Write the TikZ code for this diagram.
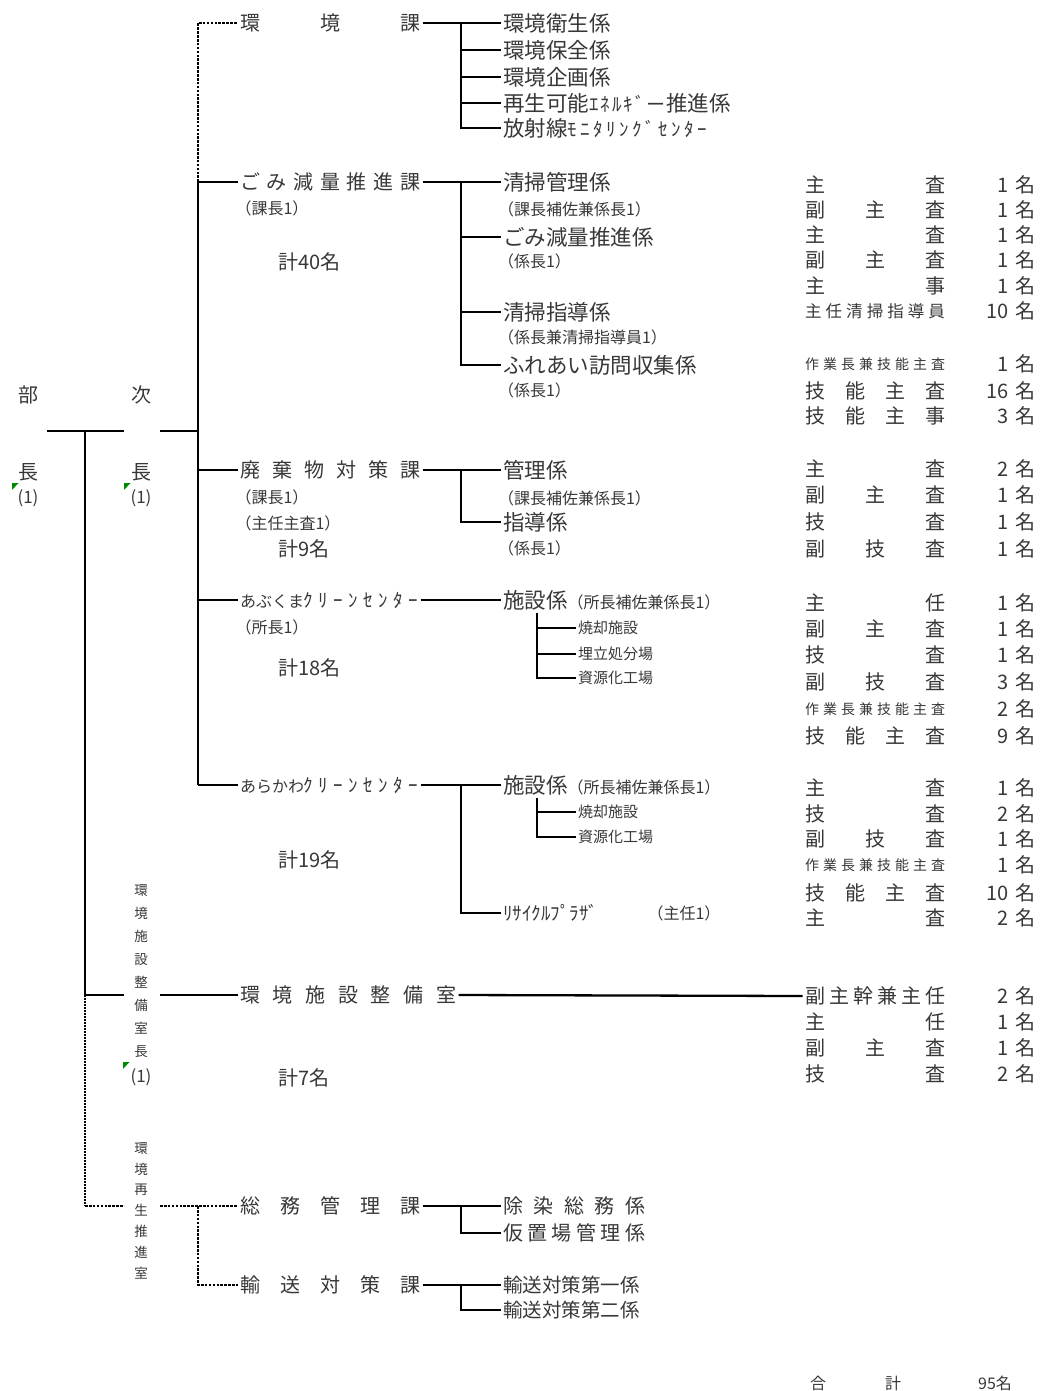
\documentclass[tikz,border=0pt]{standalone}
\usepackage{fontspec}
\setmainfont{Noto Sans CJK JP}
\newcommand\fsz[1]{\fontsize{#1}{#1}\selectfont}
\def\spreadA#1{\ifx#1\relax\else#1\expandafter\spreadB\fi}
\def\spreadB#1{\ifx#1\relax\else\hfill#1\expandafter\spreadB\fi}
\newcommand\sprd[2]{\makebox[#1][s]{\spreadA#2\relax}}
\newcommand\kana[2]{{\fsz{19}\sprd{#1}{#2}}}
\tikzset{
  txt/.style={inner sep=0pt, outer sep=2.5pt, anchor=west, text=black!78, font=\fsz{21.5}},
  ttl/.style={txt, font=\fsz{20}},
  sml/.style={txt, font=\fsz{16}},
  ctr/.style={inner sep=0pt, text=black!78, font=\fsz{20}},
  role/.style={txt, font=\fsz{20}},
  num/.style={inner sep=0pt, outer sep=2.5pt, anchor=east, text=black!78, font=\fsz{20}},
  mei/.style={txt, font=\fsz{20}},
  ln/.style={line width=2.3pt, black},
  dl/.style={line width=2.6pt, black, dash pattern=on 2.6pt off 1.3pt},
  tdl/.style={line width=1.4pt, black, dash pattern=on 1.8pt off 1.2pt},
  grn/.style={fill=green!55!black},
}
\newcommand\staffrow[5][20]{%
  \node[role,font=\fsz{#1}] (#2) at (802.5,#3) {\sprd{140pt}{#4}};
  \node[num] (#2n) at (1011.5,#3) {#5};
  \node[mei] (#2m) at (1012.5,#3) {名};
}
\begin{document}
\begin{tikzpicture}[x=1pt,y=-1pt]
\fill[white] (0,0) rectangle (1039,1391);
\useasboundingbox (0,0) rectangle (1039,1391);

% --- heads ---
\node[ctr] (bu1) at (28,395) {部};
\node[ctr] (bu2) at (28,472) {長};
\node[ctr,font=\fsz{17}] (bu3) at (28,498) {(1)};
\node[ctr] (ji1) at (141,395) {次};
\node[ctr] (ji2) at (141,472) {長};
\node[ctr,font=\fsz{17}] (ji3) at (141,498) {(1)};
\fill[grn] (12,483) -- (18.5,483) -- (12,490) -- cycle;
\fill[grn] (124,483) -- (130.5,483) -- (124,490) -- cycle;
\node[ctr,font={\fontsize{13.5}{23.1}\selectfont},align=center] (seicho) at (141,971) {環\\境\\施\\設\\整\\備\\室\\長};
\node[ctr,font=\fsz{17}] (seicho1) at (141,1077) {(1)};
\fill[grn] (123,1062) -- (129.5,1062) -- (123,1069) -- cycle;
\node[ctr,font={\fontsize{13.5}{20.8}\selectfont},align=center] (saisei) at (141,1210.5) {環\\境\\再\\生\\推\\進\\室};

% --- sections ---
\node[ttl] (kk) at (237.5,23) {\sprd{180pt}{環境課}};
\node[ttl] (gomi) at (237.5,182) {\sprd{180pt}{ごみ減量推進課}};
\node[ttl] (hai) at (237.5,470) {\sprd{180pt}{廃棄物対策課}};
\node[ttl] (abu) at (237.5,600) {{\fsz{16}\sprd{60pt}{あぶくま}}\hspace{3pt}\kana{115pt}{ｸﾘｰﾝｾﾝﾀｰ}};
\node[ttl] (ara) at (237.5,785) {{\fsz{16}\sprd{60pt}{あらかわ}}\hspace{3pt}\kana{115pt}{ｸﾘｰﾝｾﾝﾀｰ}};
\node[ttl] (sei) at (237.5,995) {\sprd{216pt}{環境施設整備室}};
\node[ttl] (somu) at (237.5,1206) {\sprd{180pt}{総務管理課}};
\node[ttl] (yuso) at (237.5,1285) {\sprd{180pt}{輸送対策課}};

% --- left sub texts ---
\node[sml] (gomi1) at (233,208) {（課長1）};
\node[ttl] (gomi2) at (275.5,262) {計40名};
\node[sml] (hai1) at (233,497) {（課長1）};
\node[sml] (hai2) at (233,523) {（主任主査1）};
\node[ttl] (hai3) at (275.5,549) {計9名};
\node[sml] (abu1) at (233,627) {（所長1）};
\node[ttl] (abu2) at (275.5,668) {計18名};
\node[ttl] (ara2) at (275.5,860) {計19名};
\node[ttl] (sei2) at (275.5,1078) {計7名};

% --- kakari ---
\node[txt] (k1) at (500.5,23) {環境衛生係};
\node[txt] (k2) at (500.5,50) {環境保全係};
\node[txt] (k3) at (500.5,77) {環境企画係};
\node[txt] (k4) at (500.5,103) {再生可能\kana{77pt}{ｴﾈﾙｷﾞー}推進係};
\node[txt] (k5) at (500.5,128) {放射線\kana{140pt}{ﾓﾆﾀﾘﾝｸﾞｾﾝﾀｰ}};

\node[txt] (g1) at (500.5,182) {清掃管理係};
\node[sml] (g1s) at (495.5,209) {（課長補佐兼係長1）};
\node[txt] (g2) at (500.5,237) {ごみ減量推進係};
\node[sml] (g2s) at (495.5,261) {（係長1）};
\node[txt] (g3) at (500.5,312) {清掃指導係};
\node[sml] (g3s) at (495.5,337) {（係長兼清掃指導員1）};
\node[txt] (g4) at (500.5,365) {ふれあい訪問収集係};
\node[sml] (g4s) at (495.5,390) {（係長1）};

\node[txt] (h1) at (500.5,470) {管理係};
\node[sml] (h1s) at (495.5,498) {（課長補佐兼係長1）};
\node[txt] (h2) at (500.5,522) {指導係};
\node[sml] (h2s) at (495.5,548) {（係長1）};

\node[txt] (a1) at (500.5,600) {施設係{\fsz{16}（所長補佐兼係長1）}};
\node[txt,font=\fsz{15}] (a2) at (575.5,628) {焼却施設};
\node[txt,font=\fsz{15}] (a3) at (575.5,654) {埋立処分場};
\node[txt,font=\fsz{15}] (a4) at (575.5,678) {資源化工場};

\node[txt] (b1) at (500.5,785) {施設係{\fsz{16}（所長補佐兼係長1）}};
\node[txt,font=\fsz{15}] (b2) at (575.5,812) {焼却施設};
\node[txt,font=\fsz{15}] (b3) at (575.5,837) {資源化工場};
\node[txt,font=\fsz{19}] (b4) at (500.5,913) {\sprd{87pt}{ﾘｻｲｸﾙﾌﾟﾗｻﾞ}};
\node[sml] (b4s) at (645,913) {（主任1）};

\node[txt,font=\fsz{20}] (s1) at (500.5,1206) {\sprd{142pt}{除染総務係}};
\node[txt,font=\fsz{20}] (s2) at (500.5,1233) {\sprd{142pt}{仮置場管理係}};
\node[txt,font=\fsz{19.5}] (y1) at (500.5,1285) {輸送対策第一係};
\node[txt,font=\fsz{19.5}] (y2) at (500.5,1310) {輸送対策第二係};

% --- staff ---
\staffrow{r1}{185}{主査}{1}
\staffrow{r2}{210}{副主査}{1}
\staffrow{r3}{235}{主査}{1}
\staffrow{r4}{260}{副主査}{1}
\staffrow{r5}{286}{主事}{1}
\staffrow[16.5]{r6}{311}{主任清掃指導員}{10}
\staffrow[14]{r7}{364}{作業長兼技能主査}{1}
\staffrow{r8}{391}{技能主査}{16}
\staffrow{r9}{416}{技能主事}{3}
\staffrow{r10}{469}{主査}{2}
\staffrow{r11}{495}{副主査}{1}
\staffrow{r12}{522}{技査}{1}
\staffrow{r13}{549}{副技査}{1}
\staffrow{r14}{603}{主任}{1}
\staffrow{r15}{629}{副主査}{1}
\staffrow{r16}{655}{技査}{1}
\staffrow{r17}{682}{副技査}{3}
\staffrow[14]{r18}{709}{作業長兼技能主査}{2}
\staffrow{r19}{736}{技能主査}{9}
\staffrow{r20}{788}{主査}{1}
\staffrow{r21}{814}{技査}{2}
\staffrow{r22}{839}{副技査}{1}
\staffrow[14]{r23}{865}{作業長兼技能主査}{1}
\staffrow{r24}{893}{技能主査}{10}
\staffrow{r25}{918}{主査}{2}
\staffrow{r26}{996}{副主幹兼主任}{2}
\staffrow{r27}{1022}{主任}{1}
\staffrow{r28}{1048}{副主査}{1}
\staffrow{r29}{1074}{技査}{2}

\node[ctr,font=\fsz{16}] (t1) at (818,1383) {合};
\node[ctr,font=\fsz{16}] (t2) at (893,1383) {計};
\node[ctr,font=\fsz{16}] (t3) at (995,1383) {95名};

% --- coordinates ---
\coordinate (jTop) at (198,23);
\coordinate (jGomi) at (198,182);
\coordinate (jHai) at (198,470);
\coordinate (jAbu) at (198,600);
\coordinate (jAra) at (198,785);
\coordinate (jJi) at (198,431);
\coordinate (jiL) at (160,431);
\coordinate (buL) at (47,431);
\coordinate (buR) at (124,431);
\coordinate (vB) at (85,431);
\coordinate (vSe) at (85,995);
\coordinate (vSeR) at (124,995);
\coordinate (seL) at (160,995);
\coordinate (vSa) at (85,1206);
\coordinate (vSaR) at (124,1206);
\coordinate (saL) at (160,1206);
\coordinate (jSa) at (198,1206);
\coordinate (kj) at (461,23);
\coordinate (gj) at (461,182);
\coordinate (hj) at (461,470);
\coordinate (aj) at (537,613);
\coordinate (rj) at (461,785);
\coordinate (bj) at (537,798);
\coordinate (sj) at (461,1206);
\coordinate (yj) at (461,1285);

% --- connectors ---
\draw[dl] (jGomi) -- (jTop) -- (kk.west);
\draw[ln] (jGomi) -- (jAra);
\draw[ln] (jGomi) -- (gomi.west);
\draw[ln] (jHai) -- (hai.west);
\draw[ln] (jAbu) -- (abu.west);
\draw[ln] (jAra) -- (ara.west);
\draw[ln] (buL) -- (buR);
\draw[ln] (jiL) -- (jJi);
\draw[ln] (vB) -- (vSe) -- (vSeR);
\draw[ln] (seL) -- (sei.west);
\draw[ln] (sei.east) -- (r26.west);
\draw[tdl] (vSe) -- (vSa);
\draw[dl] (vSa) -- (vSaR);
\draw[dl] (saL) -- (somu.west);
\draw[dl] (jSa) |- (yuso.west);

\draw[ln] (kk.east) -- (k1.west);
\foreach \n in {k2,k3,k4,k5} \draw[ln] (kj) |- (\n.west);
\draw[ln] (gomi.east) -- (g1.west);
\foreach \n in {g2,g3,g4} \draw[ln] (gj) |- (\n.west);
\draw[ln] (hai.east) -- (h1.west);
\draw[ln] (hj) |- (h2.west);
\draw[ln] (abu.east) -- (a1.west);
\foreach \n in {a2,a3,a4} \draw[ln] (aj) |- (\n.west);
\draw[ln] (ara.east) -- (b1.west);
\draw[ln] (rj) |- (b4.west);
\foreach \n in {b2,b3} \draw[ln] (bj) |- (\n.west);
\draw[ln] (somu.east) -- (s1.west);
\draw[ln] (sj) |- (s2.west);
\draw[ln] (yuso.east) -- (y1.west);
\draw[ln] (yj) |- (y2.west);
\end{tikzpicture}
\end{document}
